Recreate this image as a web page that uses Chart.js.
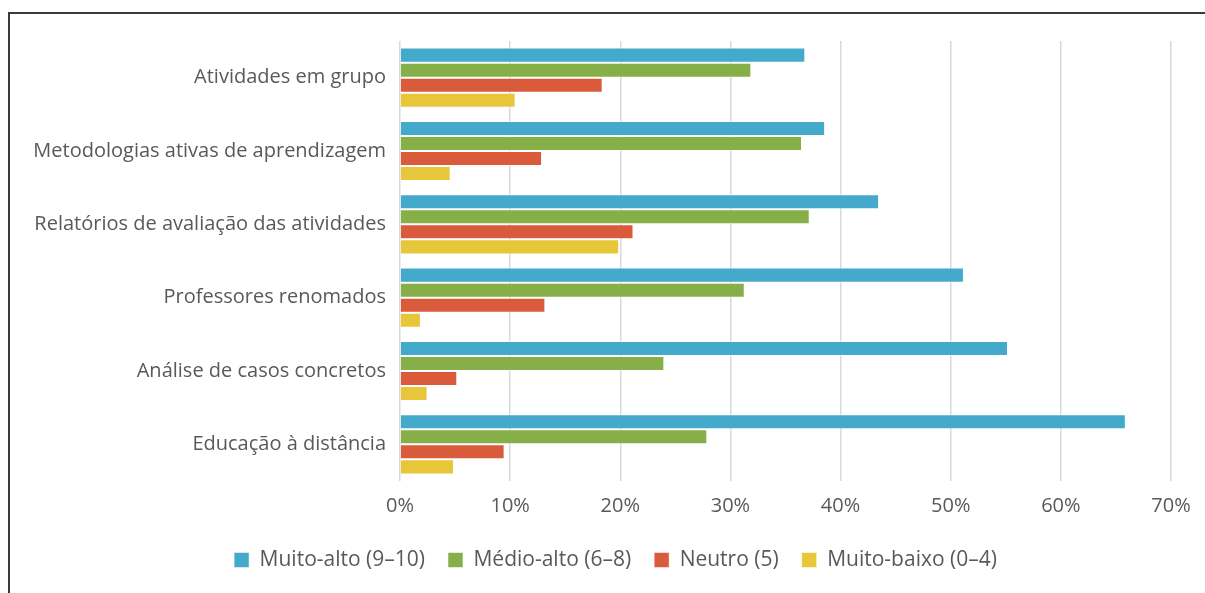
<!DOCTYPE html>
<html lang="pt">
<head>
<meta charset="utf-8">
<script src="https://cdn.jsdelivr.net/npm/chart.js@4/dist/chart.umd.min.js"></script>
<style>
  html, body { margin: 0; padding: 0; overflow: hidden; background: #fff; }
  #wrap { position: relative; width: 1205px; height: 593px; }
  #frame {
    position: absolute; left: 8px; top: 12px;
    width: 1400px; height: 800px;
    border: 2px solid #3a3a3a;
    pointer-events: none;
  }
</style>
</head>
<body>
<div id="wrap">
  <canvas id="myChart" width="1205" height="593"></canvas>
  <div id="frame"></div>
</div>
<script>
const categories = [
  'Atividades em grupo',
  'Metodologias ativas de aprendizagem',
  'Relatórios de avaliação das atividades',
  'Professores renomados',
  'Análise de casos concretos',
  'Educação à distância'
];
const seriesNames = ['Muito-alto (9–10)', 'Médio-alto (6–8)', 'Neutro (5)', 'Muito-baixo (0–4)'];
const muitoAlto = [36.8, 38.6, 43.5, 51.2, 55.2, 65.9];
const medioAlto = [31.9, 36.5, 37.2, 31.3, 24.0, 27.9];
const neutro = [18.4, 12.9, 21.2, 13.2, 5.2, 9.5];
const muitoBaixo = [10.5, 4.6, 19.9, 1.9, 2.5, 4.9];
const xTicks = [0, 10, 20, 30, 40, 50, 60, 70];

const colors = ['#44AACB', '#86AF47', '#DA5A3C', '#E8C63A'];
const textColor = '#595959';
const fontFamily = '"Open Sans", sans-serif';

const data = {
  labels: categories,
  datasets: [muitoAlto, medioAlto, neutro, muitoBaixo].map((vals, i) => ({
    label: seriesNames[i],
    data: vals,
    backgroundColor: colors[i],
    borderColor: 'rgba(255,255,255,0.55)',
    borderWidth: 1,
    categoryPercentage: 0.82,
    barPercentage: 1.0
  }))
};

// nudge the legend box right so it sits under the plot rather than the whole canvas
const legendShift = {
  id: 'legendShift',
  afterLayout(chart) {
    chart.legend.left += 60;
  }
};

const config = {
  type: 'bar',
  data: data,
  plugins: [legendShift],
  options: {
    indexAxis: 'y',
    responsive: false,
    maintainAspectRatio: false,
    animation: false,
    layout: {
      padding: { top: 41, right: 34, bottom: 12.5, left: 0 }
    },
    scales: {
      x: {
        min: 0,
        max: 70,
        afterBuildTicks: (scale) => {
          scale.ticks = xTicks.map(v => ({ value: v }));
        },
        afterFit: (scale) => { scale.height = 45.5; },
        grid: { color: '#d9d9d9', lineWidth: 1.5, drawTicks: false },
        border: { display: false },
        ticks: {
          color: textColor,
          padding: 13,
          font: { family: fontFamily, size: 20 },
          callback: (v) => v + '%'
        }
      },
      y: {
        afterFit: (scale) => { scale.width = 400; },
        grid: { display: false, drawTicks: false },
        border: { display: false },
        ticks: {
          color: textColor,
          padding: 14,
          font: { family: fontFamily, size: 20 }
        }
      }
    },
    plugins: {
      legend: {
        display: true,
        position: 'bottom',
        labels: {
          color: textColor,
          boxWidth: 15,
          boxHeight: 15,
          padding: 23,
          font: { family: fontFamily, size: 21 }
        }
      },
      tooltip: { enabled: false }
    }
  }
};

var myChart = new Chart(
  document.getElementById('myChart'),
  config
);
</script>
</body>
</html>
